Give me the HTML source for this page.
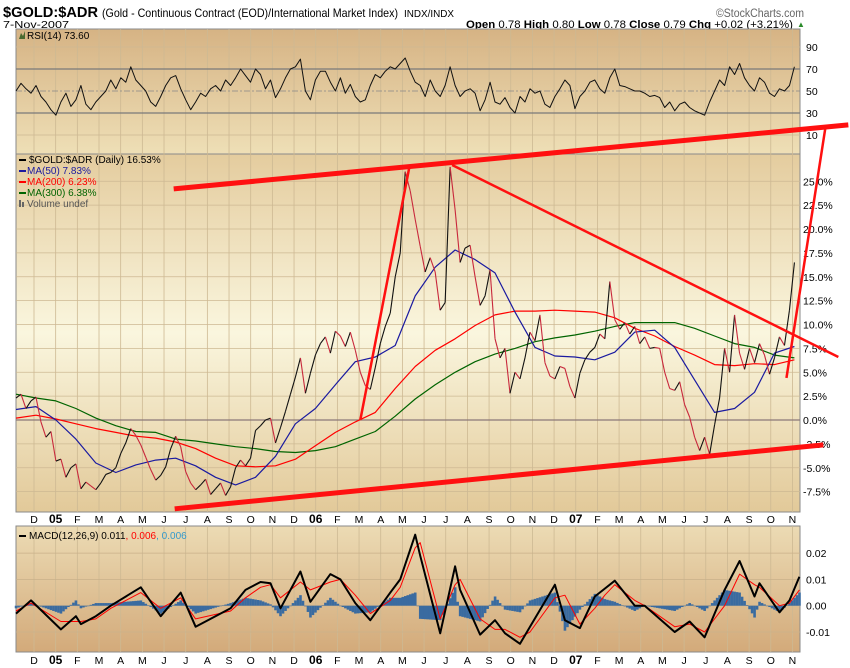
<!DOCTYPE html>
<html><head><meta charset="utf-8"><title>$GOLD:$ADR</title>
<style>
html,body{margin:0;padding:0;background:#fff;}
svg{display:block;font-family:"Liberation Sans",sans-serif;}
</style></head>
<body>
<svg id="chart" width="850" height="668" viewBox="0 0 850 668" xmlns="http://www.w3.org/2000/svg">
<defs>
<linearGradient id="gRsi" x1="0" y1="0" x2="0" y2="1"><stop offset="0" stop-color="#d6b384"/><stop offset="1" stop-color="#eedfb6"/></linearGradient>
<linearGradient id="gMain" x1="0" y1="0" x2="0" y2="1"><stop offset="0" stop-color="#e4cc9e"/><stop offset="0.5" stop-color="#faf6de"/><stop offset="1" stop-color="#e2c999"/></linearGradient>
<linearGradient id="gMacd" x1="0" y1="0" x2="0" y2="1"><stop offset="0" stop-color="#ecdbb4"/><stop offset="1" stop-color="#d3aa7a"/></linearGradient>
</defs>
<text x="3" y="17" font-size="15" font-weight="bold" textLength="95" lengthAdjust="spacingAndGlyphs">$GOLD:$ADR</text>
<text x="102" y="17" font-size="12" textLength="296" lengthAdjust="spacingAndGlyphs">(Gold - Continuous Contract (EOD)/International Market Index)</text>
<text x="404" y="17" font-size="10" textLength="50" lengthAdjust="spacingAndGlyphs">INDX/INDX</text>
<text x="716" y="17" font-size="11.5" fill="#666" textLength="88" lengthAdjust="spacingAndGlyphs">©StockCharts.com</text>
<text x="3" y="28" font-size="10.5" textLength="66" lengthAdjust="spacingAndGlyphs">7-Nov-2007</text>
<text x="466" y="28" font-size="11" textLength="327" lengthAdjust="spacingAndGlyphs"><tspan font-weight="bold">Open</tspan> 0.78 <tspan font-weight="bold">High</tspan> 0.80 <tspan font-weight="bold">Low</tspan> 0.78 <tspan font-weight="bold">Close</tspan> 0.79 <tspan font-weight="bold">Chg</tspan> +0.02 (+3.21%)</text>
<text x="797" y="27" font-size="8" fill="#2a8a2a">▲</text>

<rect x="16" y="29" width="784" height="125" fill="url(#gRsi)" stroke="#8a8a8a"/>
<rect x="16" y="154" width="784" height="358" fill="url(#gMain)" stroke="#8a8a8a"/>
<rect x="16" y="526" width="784" height="126" fill="url(#gMacd)" stroke="#8a8a8a"/>
<g id="grid"></g>
<g id="series"></g>
<g id="overlay"></g>
<text x="27" y="39" font-size="10">RSI(14) 73.60</text>
<path d="M19 39 L21 33 L23 36 L25 31 L25 39 Z" fill="#4a6a30"/>
<g font-size="10">
<rect x="19" y="159" width="7" height="2" fill="#000"/><text x="29" y="163">$GOLD:$ADR (Daily) 16.53%</text>
<rect x="19" y="170" width="7" height="2" fill="#1a1aa0"/><text x="27" y="174" fill="#1a1aa0">MA(50) 7.83%</text>
<rect x="19" y="181" width="7" height="2" fill="#ff0000"/><text x="27" y="185" fill="#ff0000">MA(200) 6.23%</text>
<rect x="19" y="192" width="7" height="2" fill="#006400"/><text x="27" y="196" fill="#006400">MA(300) 6.38%</text>
<text x="27" y="207" fill="#555">Volume undef</text>
<rect x="19" y="200" width="2" height="7" fill="#666"/><rect x="22" y="202" width="2" height="5" fill="#666"/>
</g>
<g font-size="10">
<rect x="19" y="535" width="7" height="2" fill="#000"/>
<text x="29" y="539">MACD(12,26,9) 0.011<tspan fill="#ff0000">, 0.006</tspan><tspan fill="#3399cc">, 0.006</tspan></text>
</g>
</svg>
<script>
// ---- data ----
const monthLabels = ["D","05","F","M","A","M","J","J","A","S","O","N","D","06","F","M","A","M","J","J","A","S","O","N","D","07","F","M","A","M","J","J","A","S","O","N"];
const priceTicks = [25,22.5,20,17.5,15,12.5,10,7.5,5,2.5,0,-2.5,-5,-7.5];
const rsiTicks = [90,70,50,30,10];
const macdTicks = [0.02,0.01,0,-0.01];
// weekly closes (%), first week ~ early Nov 2004
const priceVals = [2.3,2.7,1.2,2.0,2.4,-0.2,-1.8,-1.2,-4.3,-4.1,
-6.0,-5.0,-4.6,-7.2,-6.5,-6.9,-7.3,-6.6,-5.7,-5.5,
-5.0,-3.5,-2.4,-0.9,-1.6,-2.6,-3.9,-5.2,-6.3,-5.8,
-4.9,-3.0,-1.7,-2.8,-5.4,-6.6,-7.3,-6.8,-6.2,-7.8,
-7.2,-6.6,-7.9,-7.0,-5.0,-4.2,-4.8,-4.0,-1.1,-0.6,
0.0,0.2,-2.4,-0.8,0.9,2.7,4.5,6.5,2.8,4.9,
6.8,8.0,8.7,7.0,9.3,8.8,7.7,9.2,7.3,5.0,
3.6,3.2,5.5,8.0,9.8,11.2,15.0,17.5,26.0,24.0,
21.0,18.2,15.5,17.0,15.5,11.5,12.3,26.5,22.0,16.5,
18.0,18.3,15.0,12.0,13.0,15.7,8.5,6.5,7.5,2.8,
5.0,4.3,6.5,9.2,8.3,11.0,6.0,4.6,4.3,5.6,
5.4,3.5,2.3,4.9,6.3,7.1,7.6,9.0,8.5,14.5,
10.5,9.5,10.2,9.0,9.8,8.0,8.7,7.5,7.6,7.5,
5.0,3.3,3.1,4.0,1.6,0.3,-1.8,-3.2,-1.8,-3.6,
-0.5,2.3,7.5,5.0,11.0,7.0,5.3,7.5,6.0,8.0,
6.8,4.8,6.5,8.7,7.8,11.5,16.5];
// moving averages, sampled every 4 weeks
const ma50Vals = [1.1,1.4,0.0,-2.0,-4.5,-5.5,-4.7,-4.2,-4.0,-4.8,-6.0,-6.8,-6.0,-3.8,-0.4,1.2,3.7,6.1,6.6,7.8,13.0,16.0,17.8,16.8,15.4,11.3,7.6,6.7,6.6,6.3,7.1,9.2,9.4,7.6,4.2,0.8,1.2,2.9,7.0,7.7];
const ma200Vals = [0.2,0.5,0.1,-0.4,-0.9,-1.3,-1.7,-1.9,-2.3,-3.0,-4.0,-4.8,-4.9,-4.8,-4.1,-2.7,-1.3,-0.2,0.8,3.3,5.6,7.3,8.5,9.9,11.0,11.4,11.4,11.5,11.4,11.3,10.7,9.6,8.8,7.7,6.8,5.8,5.7,5.9,5.8,6.3];
const ma300Vals = [2.7,2.3,2.0,1.2,0.2,-0.6,-1.2,-1.3,-2.0,-2.2,-2.5,-2.8,-3.0,-3.3,-3.4,-3.2,-2.8,-2.0,-1.2,0.4,2.2,3.7,5.0,6.1,6.9,7.5,8.2,8.6,8.9,9.3,9.8,10.2,10.2,10.2,9.6,8.8,8.0,7.6,6.8,6.5];
// RSI weekly
const rsiVals = [50,57,52,48,55,45,40,33,28,40,48,36,42,55,38,33,40,45,50,60,52,62,58,72,60,55,50,40,36,45,55,62,64,52,42,33,40,48,45,52,55,50,60,55,62,70,64,58,70,65,52,60,44,52,62,70,72,79,50,42,60,68,68,58,50,62,48,56,45,40,42,55,65,62,68,72,70,75,80,68,58,55,45,60,50,45,55,72,55,45,50,52,48,32,42,58,40,38,44,35,30,45,40,52,48,50,38,35,45,52,60,55,34,45,50,58,60,52,48,62,70,55,54,52,50,50,48,45,46,44,35,40,32,38,40,35,32,30,28,40,50,60,55,72,65,75,62,55,50,62,58,48,45,52,50,55,72];
// MACD turning points (week index -> value)
const macdWeeks = [0,3,9,12,13,16,19,25,29,33,36,43,46,49,51,53,57,59,63,65,68,71,75,77,80,81,85,88,89,93,96,98,101,103,108,110,113,116,118,120,124,126,132,135,138,142,145,148,149,153,155,157];
const macdVals = [-0.003,0.002,-0.009,-0.004,-0.007,-0.004,0,0.007,-0.004,0.005,-0.008,-0.001,0.006,0.009,0.0085,-0.001,0.013,0.0015,0.012,0.010,0.001,-0.0055,0.005,0.010,0.027,0.019,-0.0105,0.015,0.006,-0.011,-0.0055,-0.0105,-0.0145,-0.008,0.008,-0.0055,-0.0085,0.0035,0.0065,0.0095,0,0,-0.010,-0.006,-0.012,0.006,0.017,0.0035,0.0085,-0.0025,0.002,0.011];
const signalVals = [-0.002,0.001,-0.006,-0.006,-0.006,-0.005,-0.001,0.005,-0.001,0.003,-0.005,-0.002,0.003,0.007,0.008,0.003,0.009,0.006,0.009,0.010,0.004,-0.003,0.002,0.007,0.022,0.024,-0.005,0.008,0.010,-0.005,-0.009,-0.009,-0.012,-0.010,0.003,0.004,-0.007,-0.001,0.004,0.008,0.002,0.0,-0.008,-0.007,-0.010,0.000,0.012,0.008,0.007,0.000,0.001,0.006];
// hand-drawn trendlines (week index, %)
const trendTop = [[31.6,24.2],[166.8,30.9]];
const trendBottom = [[31.8,-9.3],[161.8,-2.6]];
const trendRise = [[69,0],[78.8,26.4]];
const trendFall = [[87.4,26.7],[164.8,6.6]];
const trendSteep = [[154.4,4.4],[162.2,30.6]];

// ---- scales ----
const NS="http://www.w3.org/2000/svg";
const L=16,R=800;
const monthX = k => 34 + k*21.67;
const weekX = w => 16 + w*4.99;
const pY = v => 420 - v*9.55;
const rY = v => 91 - (v-50)*1.1;
const mY = v => 605.7 - v*2630;
function el(tag,attrs,parent){const e=document.createElementNS(NS,tag);for(const k in attrs)e.setAttribute(k,attrs[k]);parent.appendChild(e);return e;}
const grid=document.getElementById('grid'),series=document.getElementById('series'),overlay=document.getElementById('overlay');

monthLabels.forEach((m,k)=>{
  const x=monthX(k);
  [[29,154],[154,512],[526,652]].forEach(([a,b])=>{
    const ln=el('line',{x1:x,x2:x,y1:a,y2:b,stroke:'#cdb993','stroke-width':0.8},grid);
    
    
  });
  [523,664].forEach(y=>{
    const t=el('text',{x:x,y:y,'font-size':(m.length==2?12:10.5),'text-anchor':'middle','font-weight':(m.length==2?'bold':'normal')},grid);
    t.textContent=m;
    
    
  });
});
priceTicks.forEach(v=>{
  const ln=el('line',{x1:L,x2:R,y1:pY(v),y2:pY(v),stroke:v===0?'#8a7878':'#cdb993','stroke-width':v===0?1.2:0.8},grid);
  
  
  const t=el('text',{x:803,y:pY(v)+4,'font-size':10.5},grid);
  t.textContent=v.toFixed(1)+'%';
  
  
});
rsiTicks.forEach(v=>{
  const main=(v===70||v===30);
  const ln=el('line',{x1:L,x2:R,y1:rY(v),y2:rY(v),stroke:main?'#7a7a7a':(v===50?'#888':'#cdb993'),'stroke-width':main?1.2:0.8,'stroke-dasharray':v===50?'6,2,2,2':'none'},grid);
  
  
  const t=el('text',{x:806,y:rY(v)+4,'font-size':10.5},grid);
  t.textContent=v;
  
  
});
macdTicks.forEach(v=>{
  const ln=el('line',{x1:L,x2:R,y1:mY(v),y2:mY(v),stroke:'#c9b08a','stroke-width':0.8},grid);
  
  
  const t=el('text',{x:806,y:mY(v)+4,'font-size':10.5},grid);
  t.textContent=v.toFixed(2);
  
  
});

function poly(pts,color,w,name){
  const p=el('polyline',{points:pts.map(q=>q[0].toFixed(1)+','+q[1].toFixed(1)).join(' '),fill:'none',stroke:color,'stroke-width':w,'stroke-linejoin':'round'},series);
  
  
  return p;
}
poly(ma300Vals.map((v,i)=>[weekX(i*4),pY(v)]),'#006400',1.2,'ma300-line');
poly(ma200Vals.map((v,i)=>[weekX(i*4),pY(v)]),'#ff0000',1.2,'ma200-line');
poly(ma50Vals.map((v,i)=>[weekX(i*4),pY(v)]),'#1a1aa0',1.2,'ma50-line');
for(let i=1;i<priceVals.length;i++){
  const up=priceVals[i]>=priceVals[i-1];
  const s=el('line',{x1:weekX(i-1),y1:pY(priceVals[i-1]),x2:weekX(i),y2:pY(priceVals[i]),stroke:up?'#111':'#c8283c','stroke-width':1.1},series);
  
  
}
poly(rsiVals.map((v,i)=>[weekX(i),rY(v)]),'#111',1,'rsi-line');
function interp(ws,vs,w){for(let j=1;j<ws.length;j++){if(w<=ws[j]){const f=(w-ws[j-1])/(ws[j]-ws[j-1]);return vs[j-1]+f*(vs[j]-vs[j-1]);}}return vs[vs.length-1];}
for(let w=0;w<=157;w+=0.5){
  const h=interp(macdWeeks,macdVals,w)-interp(macdWeeks,signalVals,w);
  const y0=mY(0),y1=mY(h);
  const b=el('rect',{x:weekX(w)-1.25,y:Math.min(y0,y1),width:2.6,height:Math.max(0.5,Math.abs(y1-y0)),fill:'#3a6ba0'},series);
  
  
}
poly(macdWeeks.map((w,i)=>[weekX(w),mY(signalVals[i])]),'#ff0000',1,'macd-signal-line');
poly(macdWeeks.map((w,i)=>[weekX(w),mY(macdVals[i])]),'#000',2,'macd-line');
function trend(seg,w,name){
  const t=el('line',{x1:weekX(seg[0][0]),y1:pY(seg[0][1]),x2:weekX(seg[1][0]),y2:pY(seg[1][1]),stroke:'#ff1010','stroke-width':w},overlay);
  
  
}
trend(trendTop,5,'upper-channel-trendline');
trend(trendBottom,5,'lower-channel-trendline');
trend(trendRise,2.5,'rally-trendline');
trend(trendFall,2.5,'descending-trendline');
trend(trendSteep,2.5,'breakout-trendline');
</script>
</body></html>
